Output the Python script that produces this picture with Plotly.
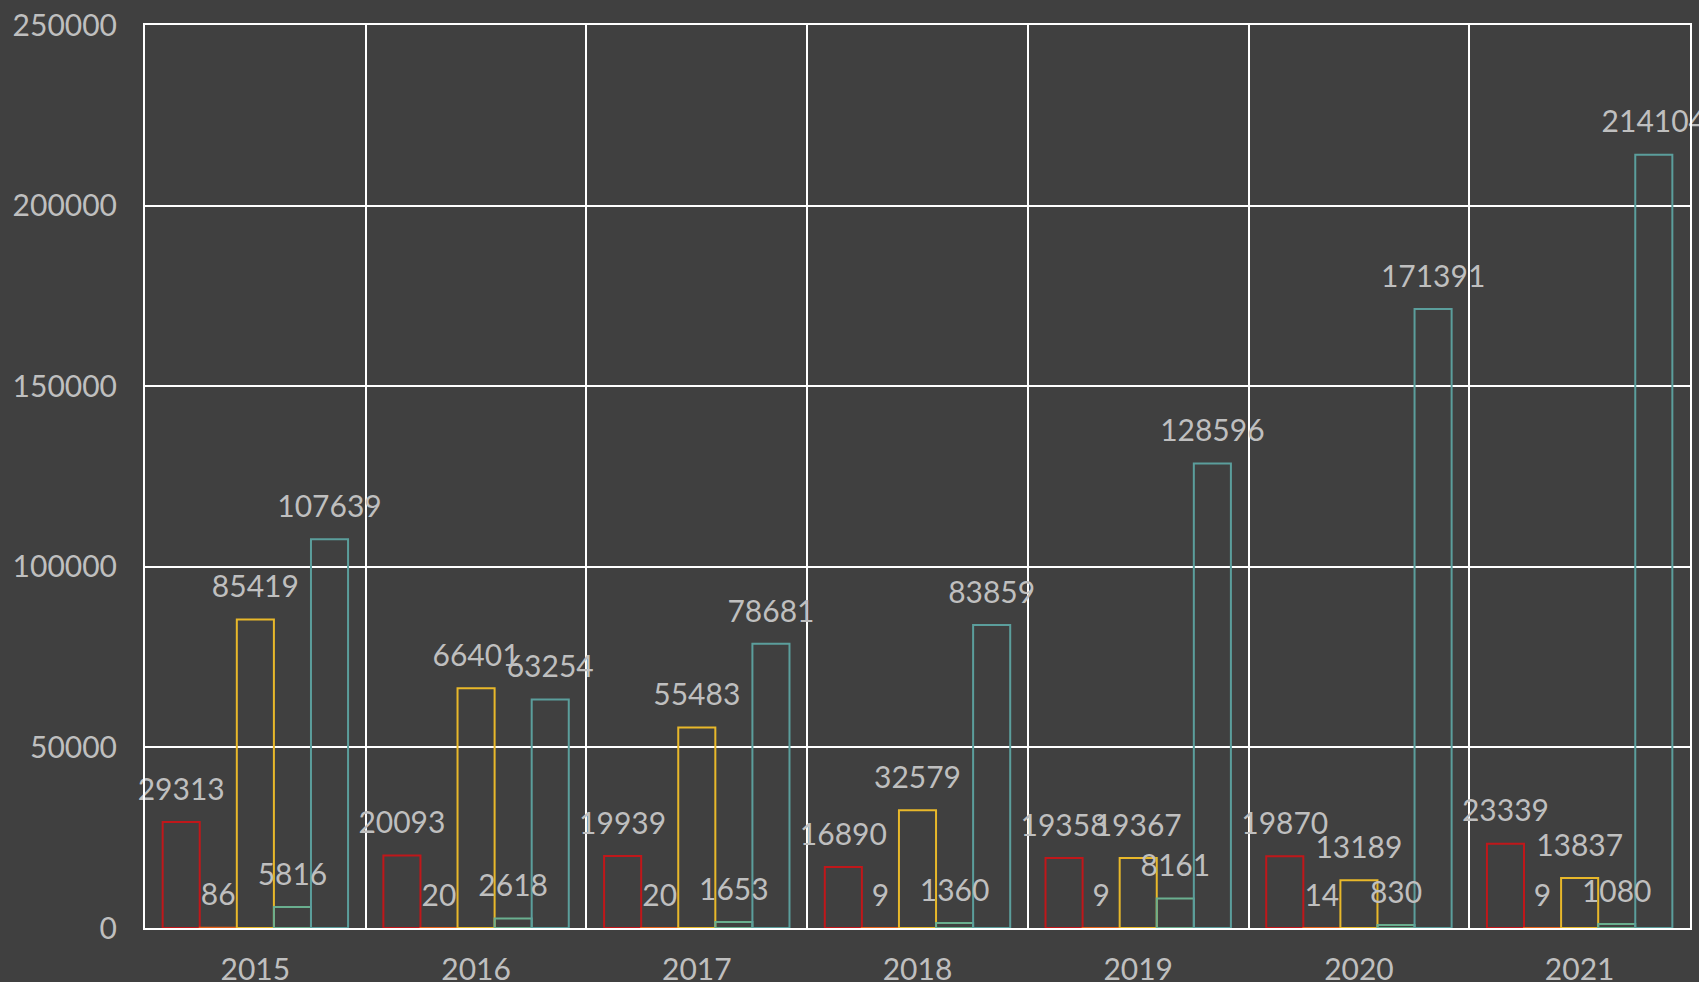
import plotly.graph_objects as go

years = ["2015", "2016", "2017", "2018", "2019", "2020", "2021"]
series_names = ["A", "B", "C", "D", "E"]
s_red = [29313, 20093, 19939, 16890, 19358, 19870, 23339]
s_orange = [86, 20, 20, 9, 9, 14, 9]
s_yellow = [85419, 66401, 55483, 32579, 19367, 13189, 13837]
s_green = [5816, 2618, 1653, 1360, 8161, 830, 1080]
s_teal = [107639, 63254, 78681, 83859, 128596, 171391, 214104]
y_ticks = [0, 50000, 100000, 150000, 200000, 250000]

colors = ["#C0171A", "#E8631A", "#E8B82A", "#6AAF8F", "#5B9E9C"]
all_series = [s_red, s_orange, s_yellow, s_green, s_teal]

BG = "#404040"
TXT = "#BFBFBF"
FONT = "Lato, sans-serif"

fig = go.Figure()
for name, vals, col in zip(series_names, all_series, colors):
    fig.add_trace(go.Bar(
        x=years, y=vals, name=name,
        marker=dict(color="rgba(0,0,0,0)", line=dict(color=col, width=2)),
        hoverinfo="skip",
    ))
for name, vals in zip(series_names, all_series):
    fig.add_trace(go.Scatter(
        x=years, y=vals, name=name + " labels",
        mode="markers+text",
        marker=dict(size=22, opacity=0),
        text=[str(v) for v in vals],
        textposition="top center",
        textfont=dict(color=TXT, size=30, family=FONT),
        cliponaxis=False,
        hoverinfo="skip",
    ))

fig.update_layout(
    width=1699, height=982,
    paper_bgcolor=BG, plot_bgcolor=BG,
    barmode="group", bargap=0.16, bargroupgap=0,
    scattermode="group", scattergap=0.16,
    showlegend=False,
    margin=dict(l=145, r=9, t=25, b=54),
    font=dict(family=FONT, color=TXT, size=30),
    xaxis=dict(
        type="category", tickson="boundaries",
        showgrid=True, gridcolor="white", gridwidth=2,
        showline=True, linecolor="white", linewidth=2,
        ticks="", ticklabelstandoff=14, automargin=False,
        tickfont=dict(size=30, color=TXT, family=FONT),
        mirror=True,
    ),
    yaxis=dict(
        range=[0, 250000], tickvals=y_ticks, tickformat="d",
        showgrid=True, gridcolor="white", gridwidth=2,
        showline=True, linecolor="white", linewidth=2, mirror=True,
        zeroline=False, ticks="", ticklabelstandoff=20, automargin=False,
        tickfont=dict(size=30, color=TXT, family=FONT),
    ),
)

fig.write_html(
    "out.html",
    config={"displayModeBar": False},
    post_script="document.body.style.margin='0';document.body.style.overflow='hidden';",
)
